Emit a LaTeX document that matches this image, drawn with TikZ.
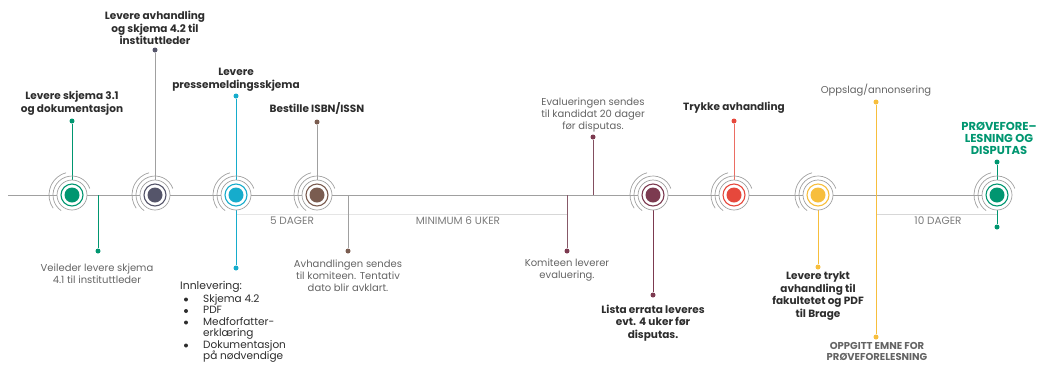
\documentclass[tikz,border=0pt]{standalone}
\usepackage{fontspec}
\setmainfont{Poppins}
\definecolor{cgreen}{RGB}{0,150,112}
\definecolor{cslate}{RGB}{85,85,106}
\definecolor{ccyan}{RGB}{22,172,204}
\definecolor{cbrown}{RGB}{122,92,80}
\definecolor{cmaroon}{RGB}{124,58,80}
\definecolor{cred}{RGB}{230,72,60}
\definecolor{cyellow}{RGB}{247,190,60}
\definecolor{cline}{RGB}{160,160,160}
\definecolor{cbracket}{RGB}{215,215,215}
\definecolor{ctext}{RGB}{45,45,45}
\definecolor{cgtext}{RGB}{100,100,100}
\tikzset{
  dotn/.style={circle, fill=#1, inner sep=0pt, minimum size=5pt},
  stem/.style={line width=1pt, draw=#1},
  ringg/.style={draw=cline, line width=0.7pt},
  lbl/.style={align=center, inner sep=0pt, font=\fontsize{10.5}{12.8}\selectfont\bfseries, text=ctext},
  glbl/.style={align=center, inner sep=0pt, font=\fontsize{10}{11.8}\selectfont, text=cgtext},
  blbl/.style={inner sep=0pt, font=\fontsize{10.5}{12}\selectfont, text=cgtext!85!white},
  bracket/.style={draw=cbracket, line width=0.6pt},
  bul/.style={circle, fill=ctext, inner sep=0pt, minimum size=4pt},
}
\newcommand\milestone[3]{%
  \draw[ringg, fill=white] (#2,195) circle[radius=15];
  \draw[ringg] (#2,195) ++(-20:19) arc[start angle=-20, end angle=-235, radius=19];
  \draw[ringg] (#2,195) ++(-105:23) arc[start angle=-105, end angle=-215, radius=23];
  \draw[#3, line width=1.1pt] (#2,195) circle[radius=11];
  \node[circle, fill=#3, minimum size=15pt, inner sep=0pt] (#1) at (#2,195) {};
}
\begin{document}
\begin{tikzpicture}[x=1pt,y=-1pt]
\useasboundingbox (0,0) rectangle (1038,365);
% timeline
\coordinate (tstart) at (8,195);
\coordinate (tend) at (997,195);
\draw[draw=cline, line width=1pt] (tstart) -- (tend);
% brackets
\coordinate (b1) at (236,214);
\coordinate (b2) at (348,214);
\coordinate (b3) at (567,214);
\coordinate (b4) at (876,214);
\coordinate (b5) at (997,214);
\draw[bracket] (b1) -- (b2) -- (b3);
\draw[bracket] (b4) -- (b5);
\node[blbl] (d5) at (292,221) {5 DAGER};
\node[blbl] (d6) at (458,221) {MINIMUM 6 UKER};
\node[blbl] (d10) at (938,221) {10 DAGER};
% dots
\node[dotn=cgreen] (p1u) at (72,121) {};
\node[dotn=cgreen] (p1d) at (98,251) {};
\node[dotn=cslate] (p2u) at (155,50) {};
\node[dotn=ccyan] (p3u) at (236,96) {};
\node[dotn=ccyan] (p3d) at (236,268) {};
\node[dotn=cbrown] (p4u) at (317,122) {};
\node[dotn=cbrown] (p4d) at (348,251) {};
\node[dotn=cmaroon] (p5d) at (567,251) {};
\node[dotn=cmaroon] (p6u) at (593,137) {};
\node[dotn=cmaroon] (p7d) at (653,295) {};
\node[dotn=cred] (p8u) at (734,121) {};
\node[dotn=cyellow] (p9d) at (818,267) {};
\node[dotn=cyellow] (p10u) at (876,102) {};
\node[dotn=cyellow] (p10d) at (876,337) {};
\node[dotn=cgreen] (p11u) at (997,162) {};
\node[dotn=cgreen] (p11d) at (997,227) {};
% stems
\coordinate (s1) at (98,195);
\coordinate (s4) at (348,195);
\coordinate (s5) at (567,195);
\coordinate (s6) at (593,195);
\draw[stem=cgreen] (p1u) -- (72,195);
\draw[stem=cgreen] (s1) -- (p1d);
\draw[stem=cline] (p2u) -- (155,195);
\draw[stem=ccyan] (p3u) -- (p3d);
\draw[stem=cline] (p4u) -- (317,195);
\draw[stem=cline] (s4) -- (p4d);
\draw[stem=cmaroon!70!cline] (s5) -- (p5d);
\draw[stem=cmaroon!80!cline] (s6) -- (p6u);
\draw[stem=cmaroon] (653,195) -- (p7d);
\draw[stem=cred!80!white] (p8u) -- (734,195);
\draw[stem=cyellow] (818,195) -- (p9d);
\draw[stem=cyellow] (p10u) -- (p10d);
\draw[stem=cgreen] (p11u) -- (p11d);
% milestones
\milestone{m1}{72}{cgreen}
\milestone{m2}{155}{cslate}
\milestone{m3}{236}{ccyan}
\milestone{m4}{317}{cbrown}
\milestone{m5}{653}{cmaroon}
\milestone{m6}{734}{cred}
\milestone{m7}{818}{cyellow}
\milestone{m8}{997}{cgreen}
% labels
\node[lbl] (t1) at (72,103.5) {Levere skjema 3.1\\og dokumentasjon};
\node[glbl] (t1d) at (97,274) {Veileder levere skjema\\4.1 til instituttleder};
\node[lbl] (t2) at (155,28) {Levere avhandling\\og skjema 4.2 til\\instituttleder};
\node[lbl] (t3) at (236,79.5) {Levere\\pressemeldingsskjema};
\node[lbl] (t4) at (317,108) {Bestille ISBN/ISSN};
\node[glbl] (t4d) at (348,276) {Avhandlingen sendes\\til komiteen. Tentativ\\dato blir avklart.};
\node[glbl] (t5) at (567,270) {Komiteen leverer\\evaluering.};
\node[glbl] (t6) at (593,115) {Evalueringen sendes\\til kandidat 20 dager\\før disputas.};
\node[lbl] (t7) at (653,323) {Lista errata leveres\\evt. 4 uker før\\disputas.};
\node[lbl] (t8) at (734,108) {Trykke avhandling};
\node[lbl] (t9) at (818,296) {Levere trykt\\avhandling til\\fakultetet og PDF\\til Brage};
\node[glbl] (t10u) at (876,90) {Oppslag/annonsering};
\node[glbl, font=\fontsize{10}{11}\selectfont\bfseries] (t10d) at (877,351.5) {OPPGITT EMNE FOR\\PRØVEFORELESNING};
\node[lbl, text=cgreen, font=\fontsize{11.5}{12}\selectfont\bfseries] (t11) at (999,138) {PRØVEFORE–\\LESNING OG\\DISPUTAS};
% innlevering list
\node[anchor=west, inner sep=0pt, font=\fontsize{10.8}{11.7}\selectfont, text=ctext] (inn) at (180,287) {Innlevering:};
\node[anchor=north west, inner sep=0pt, font=\fontsize{10.5}{11.5}\selectfont, text=ctext, align=left] (innlist) at (203,294) {%
Skjema 4.2\\
PDF\\
Medforfatter-\\
erklæring\\
Dokumentasjon\\
på nødvendige};
\node[bul] (u1) at (186,299.5) {};
\node[bul] (u2) at (186,311.0) {};
\node[bul] (u3) at (186,322.5) {};
\node[bul] (u4) at (186,345.5) {};
\end{tikzpicture}
\end{document}
